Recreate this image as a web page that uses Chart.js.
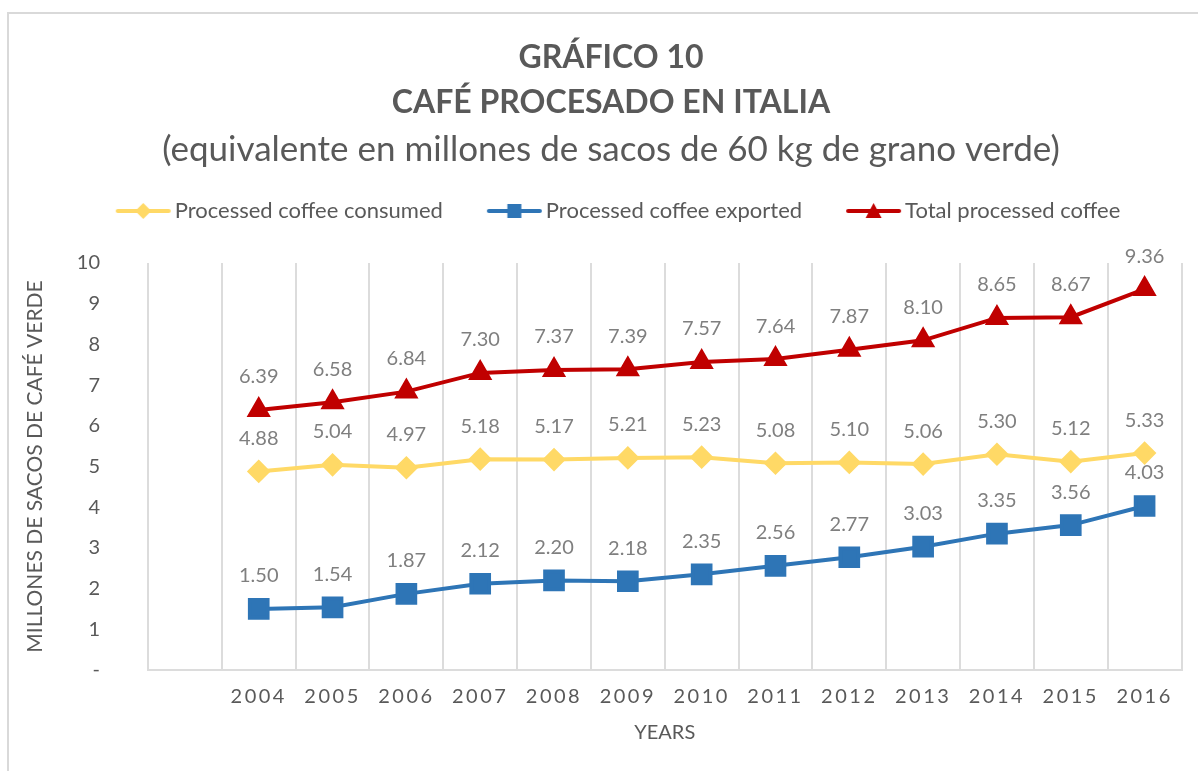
<!DOCTYPE html>
<html>
<head>
<meta charset="utf-8">
<script src="https://cdn.jsdelivr.net/npm/chart.js@4.4.1/dist/chart.umd.min.js"></script>
<style>
  html, body { margin: 0; padding: 0; background: #fff; }
  #wrap { position: relative; width: 1198px; height: 771px; overflow: hidden; }
  #frame { position: absolute; left: 7px; top: 12px; width: 1300px; height: 900px;
           border-left: 2px solid #d9d9d9; border-top: 2px solid #d9d9d9; }
  canvas { position: absolute; left: 0; top: 0; }
</style>
</head>
<body>
<div id="wrap">
  <div id="frame"></div>
  <canvas id="myChart" width="1198" height="771"></canvas>
</div>
<script>
const years = ['2004', '2005', '2006', '2007', '2008', '2009', '2010', '2011', '2012', '2013', '2014', '2015', '2016'];
const consumed = [4.88, 5.04, 4.97, 5.18, 5.17, 5.21, 5.23, 5.08, 5.10, 5.06, 5.30, 5.12, 5.33];
const exported = [1.50, 1.54, 1.87, 2.12, 2.20, 2.18, 2.35, 2.56, 2.77, 3.03, 3.35, 3.56, 4.03];
const total = [6.39, 6.58, 6.84, 7.30, 7.37, 7.39, 7.57, 7.64, 7.87, 8.10, 8.65, 8.67, 9.36];
const yTicks = [0, 1, 2, 3, 4, 5, 6, 7, 8, 9, 10];

const textGray = '#595959';
const labelGray = '#7f7f7f';
const font = 'Lato';

// legend icon: a short line with the marker in the middle,
// blank room on the left so the items sit further apart
function legendIcon(color, shape) {
    let c = document.createElement('canvas');
    c.width = 78; c.height = 20;
    let g = c.getContext('2d');
    let m = 49.5;
    g.strokeStyle = color; g.fillStyle = color;
    g.lineWidth = 4; g.lineCap = 'round';
    g.beginPath(); g.moveTo(24, 10); g.lineTo(75, 10); g.stroke();
    g.beginPath();
    if (shape == 'diamond') {
        g.moveTo(m, 2); g.lineTo(m + 8, 10); g.lineTo(m, 18); g.lineTo(m - 8, 10);
    } else if (shape == 'square') {
        g.rect(m - 7, 3, 14, 14);
    } else {
        g.moveTo(m, 2); g.lineTo(m + 8, 17); g.lineTo(m - 8, 17);
    }
    g.closePath(); g.fill();
    return c;
}
const icons = [
    legendIcon('#ffd966', 'diamond'),
    legendIcon('#2e75b6', 'square'),
    legendIcon('#c00000', 'triangle')
];

const valueLabels = {
    id: 'valueLabels',
    afterDatasetsDraw(chart) {
        let ctx = chart.ctx;
        ctx.save();
        ctx.font = '20px ' + font;
        ctx.fillStyle = labelGray;
        ctx.textAlign = 'center';
        ctx.textBaseline = 'middle';
        chart.data.datasets.forEach((ds, i) => {
            chart.getDatasetMeta(i).data.forEach((pt, j) => {
                let v = ds.data[j];
                if (v == null) return;
                ctx.fillText(v.toFixed(2), pt.x, pt.y - 33);
            });
        });
        ctx.restore();
    }
};

// spaced-out year labels, extra room under the legend
const tweaks = {
    id: 'tweaks',
    beforeLayout(chart) {
        let lg = chart.legend;
        if (lg && !lg._tall) {
            let fit = lg.fit;
            lg.fit = function () { fit.call(this); this.height += 31; };
            lg._tall = true;
        }
    },
    beforeDraw(chart) {
        let s = chart.scales.x;
        if (s._spaced) return;
        let orig = s.drawLabels;
        s.drawLabels = function (area) {
            this.ctx.save();
            this.ctx.letterSpacing = '2.5px';
            orig.call(this, area);
            this.ctx.restore();
        };
        s._spaced = true;
    }
};

const data = {
    labels: [''].concat(years),
    datasets: [{
        label: 'Processed coffee consumed',
        data: [null].concat(consumed),
        borderColor: '#ffd966',
        backgroundColor: '#ffd966',
        pointStyle: 'rectRot',
        pointRadius: 9,
        borderWidth: 4
    }, {
        label: 'Processed coffee exported',
        data: [null].concat(exported),
        borderColor: '#2e75b6',
        backgroundColor: '#2e75b6',
        pointStyle: 'rect',
        pointRadius: 12.5,
        borderWidth: 4
    }, {
        label: 'Total processed coffee',
        data: [null].concat(total),
        borderColor: '#c00000',
        backgroundColor: '#c00000',
        pointStyle: 'triangle',
        pointRadius: 10,
        borderWidth: 4
    }]
};

const myChart = new Chart(document.getElementById('myChart'), {
    type: 'line',
    data: data,
    plugins: [valueLabels, tweaks],
    options: {
        responsive: false,
        animation: false,
        layout: {
            padding: { left: 40, right: 16, top: 0, bottom: 0 }
        },
        elements: {
            point: { borderWidth: 0, hoverRadius: 10 }
        },
        plugins: {
            tooltip: { enabled: false },
            title: {
                display: true,
                text: ['GRÁFICO 10', 'CAFÉ PROCESADO EN ITALIA'],
                color: textGray,
                font: { family: font, size: 32, weight: 'bold', lineHeight: 1.40625 },
                padding: { top: 35.5, bottom: 5.25 }
            },
            subtitle: {
                display: true,
                text: '(equivalente en millones de sacos de 60 kg de grano verde)',
                color: textGray,
                font: { family: font, size: 35, lineHeight: 1.1 },
                padding: { top: 0, bottom: 0.75 }
            },
            legend: {
                position: 'top',
                labels: {
                    usePointStyle: true,
                    pointStyleWidth: 62,
                    padding: 30,
                    color: textGray,
                    font: { family: font, size: 22 },
                    generateLabels: chart => Chart.defaults.plugins.legend.labels.generateLabels(chart)
                        .map((it, i) => Object.assign(it, { pointStyle: icons[i] }))
                }
            }
        },
        scales: {
            x: {
                offset: true,
                afterFit: s => { s.height = 101; },
                grid: { display: true, offset: true, color: '#dcdcdc', lineWidth: 2, drawTicks: false },
                border: { color: '#dcdcdc', width: 2 },
                ticks: { color: textGray, padding: 15, font: { family: font, size: 20 }, maxRotation: 0, autoSkip: false },
                title: {
                    display: true, text: 'YEARS', color: textGray,
                    font: { family: font, size: 20 }, padding: { top: 0, bottom: 26 }
                }
            },
            y: {
                min: 0,
                max: 10,
                afterFit: s => { s.width = 108; },
                afterBuildTicks: s => { s.ticks = yTicks.map(v => ({ value: v })); },
                grid: { display: false },
                border: { display: false },
                ticks: {
                    color: textGray, padding: 40, font: { family: font, size: 20 },
                    callback: v => v === 0 ? '-' : v
                },
                title: {
                    display: true, text: 'MILLONES DE SACOS DE CAFÉ VERDE', color: textGray,
                    font: { family: font, size: 21 }, padding: { top: -17.6, bottom: 0 }
                }
            }
        }
    }
});
</script>
</body>
</html>
